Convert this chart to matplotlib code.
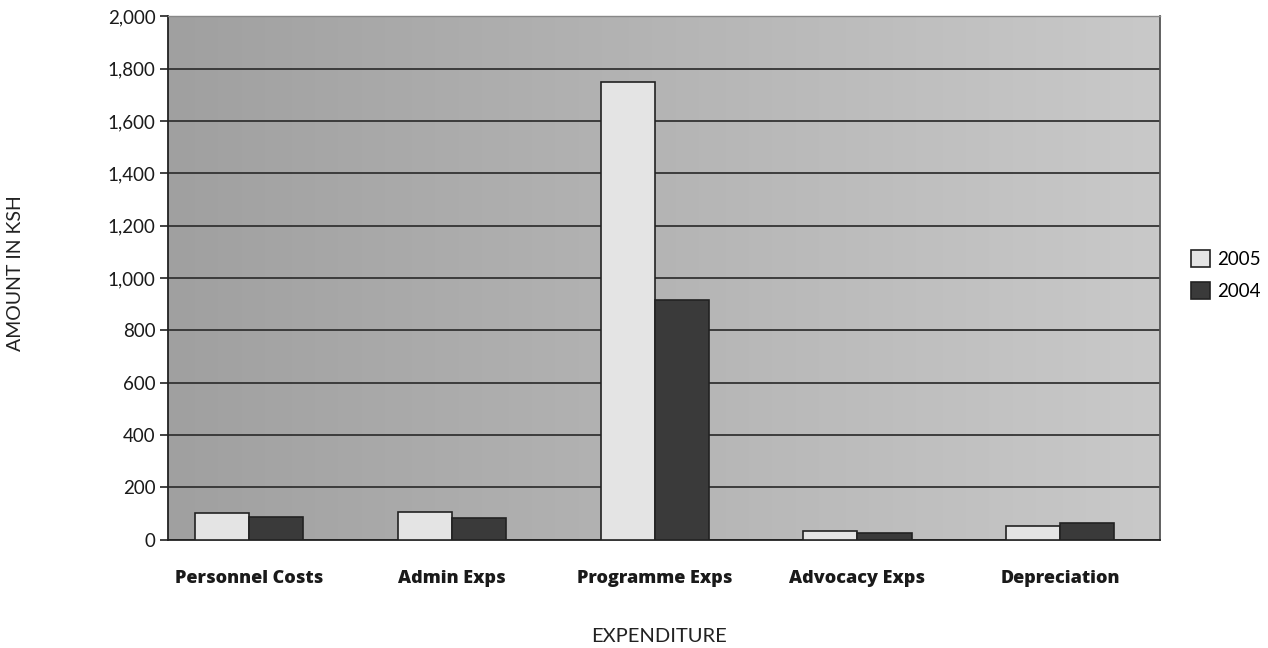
import matplotlib
matplotlib.use("Agg")
import matplotlib.pyplot as plt
import numpy as np
from matplotlib.colors import LinearSegmentedColormap

categories = ["Personnel Costs", "Admin Exps", "Programme Exps", "Advocacy Exps", "Depreciation"]
series_names = ["2005", "2004"]
values_2005 = [104, 108, 1748, 34, 53]
values_2004 = [87, 85, 916, 25, 66]
yticks = [0, 200, 400, 600, 800, 1000, 1200, 1400, 1600, 1800, 2000]
ytick_labels = ["0", "200", "400", "600", "800", "1,000", "1,200", "1,400", "1,600", "1,800", "2,000"]

plt.rcParams['font.family'] = ['Lato', 'DejaVu Sans']

fig = plt.figure(figsize=(12.68, 6.48), dpi=100)
ax = fig.add_axes([0.1325, 0.167, 0.782, 0.808])

# background gradient
grad = np.linspace(0, 1, 256).reshape(1, -1)
cmap = LinearSegmentedColormap.from_list("bg", ["#a0a0a0", "#c9c9c9"])
ax.imshow(grad, extent=[0, 1, 0, 1], transform=ax.transAxes, aspect="auto", cmap=cmap, zorder=0)

x = np.arange(len(categories))
w = 0.267
ax.bar(x - w/2, values_2005, w, color="#e4e4e4", edgecolor="#222222", linewidth=1.2, label=series_names[0], zorder=3)
ax.bar(x + w/2, values_2004, w, color="#3a3a3a", edgecolor="#222222", linewidth=1.2, label=series_names[1], zorder=3)

ax.set_xlim(-0.40, 4.49)
ax.set_ylim(0, 2000)
ax.set_yticks(yticks)
ax.set_yticklabels(ytick_labels, fontsize=13.5, color="#1a1a1a")
ax.set_xticks(x)
ax.set_xticklabels(categories, fontsize=13, fontweight=800, family=['Open Sans', 'DejaVu Sans'], color="#1a1a1a")
ax.tick_params(axis="x", length=0, pad=22)
ax.tick_params(axis="y", length=6, width=1.2, color="#222222", pad=3)
ax.yaxis.grid(True, color="#333333", linewidth=1.3, zorder=1)
ax.set_axisbelow(True)
for s in ["left", "bottom"]:
    ax.spines[s].set_color("#222222")
    ax.spines[s].set_linewidth(1.3)
ax.spines["right"].set_color("#555555")
ax.spines["right"].set_linewidth(1.3)
ax.spines["top"].set_color("#888888")
ax.spines["top"].set_linewidth(1.0)

fig.text(0.012, 0.579, "AMOUNT IN KSH", rotation=90, va="center", ha="center", fontsize=14, color="#222222")
fig.text(0.52, 0.018, "EXPENDITURE", va="center", ha="center", fontsize=14.5, color="#222222")

ax.legend(loc="center left", bbox_to_anchor=(1.015, 0.506), frameon=False, fontsize=13.5,
          handlelength=1.0, handleheight=1.0, handletextpad=0.4, labelspacing=0.75)

fig.savefig("out.png", dpi=100)
